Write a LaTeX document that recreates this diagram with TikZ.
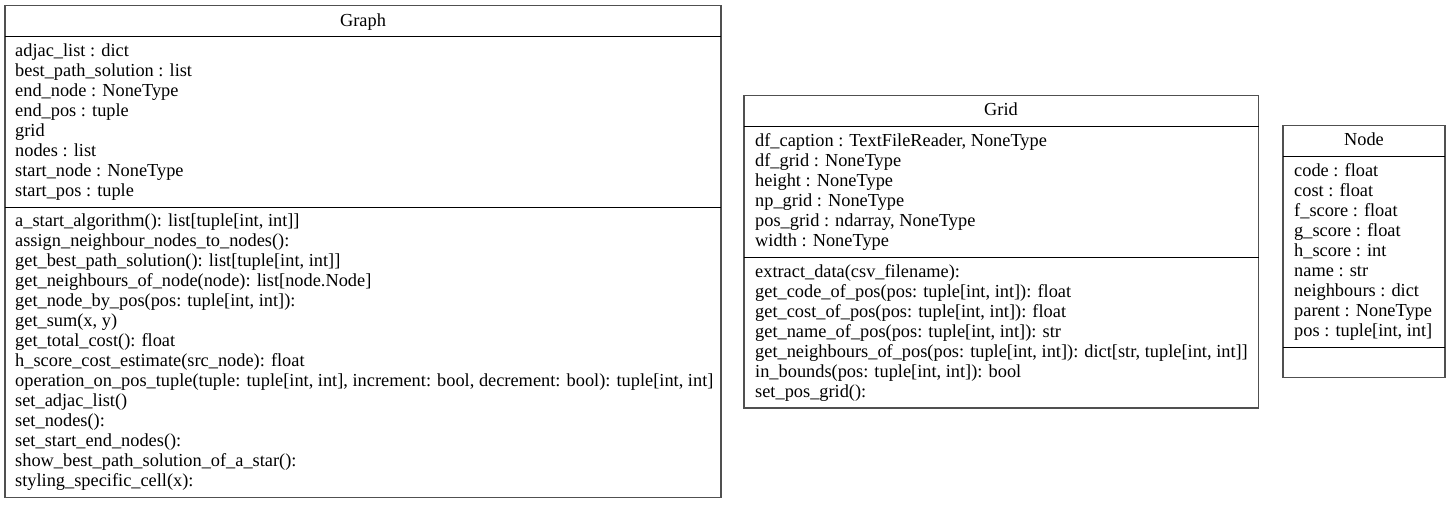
\documentclass[tikz,border=0pt]{standalone}
\usepackage{fontspec}
\setmainfont{Liberation Serif}
\definecolor{boxline}{RGB}{80,80,80}
\begin{document}
\begin{tikzpicture}[x=1pt,y=-1pt,
  outer/.style={draw=boxline,line width=1.3pt},
  divider/.style={draw=black,line width=1pt},
  rows/.style={anchor=base west,align=left,inner sep=0pt,font=\fontsize{18.35}{20}\selectfont},
  title/.style={anchor=base,inner sep=0pt,font=\fontsize{18.35}{20}\selectfont}]
\useasboundingbox (0,0) rectangle (1450,504);
% ---------- Graph ----------
\coordinate (gnw) at (5,5.5);
\coordinate (gse) at (721,497.5);
\draw[outer] (gnw) rectangle (gse);
\draw[divider] (5,36) -- (721,36);
\draw[divider] (5,207) -- (721,207);
\node[title] (gtitle) at (363,26) {Graph};
% anchors are at the baseline of the last line
\node[rows] (gattr) at (15,196) {adjac\_list : dict\\best\_path\_solution : list\\end\_node : NoneType\\end\_pos : tuple\\grid\\nodes : list\\start\_node : NoneType\\start\_pos : tuple};
\node[rows] (gmeth) at (15,486) {a\_start\_algorithm(): list[tuple[int, int]]\\assign\_neighbour\_nodes\_to\_nodes():\\get\_best\_path\_solution(): list[tuple[int, int]]\\get\_neighbours\_of\_node(node): list[node.Node]\\get\_node\_by\_pos(pos: tuple[int, int]):\\get\_sum(x, y)\\get\_total\_cost(): float\\h\_score\_cost\_estimate(src\_node): float\\operation\_on\_pos\_tuple(tuple: tuple[int, int], increment: bool, decrement: bool): tuple[int, int]\\set\_adjac\_list()\\set\_nodes():\\set\_start\_end\_nodes():\\show\_best\_path\_solution\_of\_a\_star():\\styling\_specific\_cell(x):};
% ---------- Grid ----------
\coordinate (rnw) at (744,95.7);
\coordinate (rse) at (1258.5,408);
\draw[outer] (rnw) rectangle (rse);
\draw[divider] (744,126) -- (1258.5,126);
\draw[divider] (744,257) -- (1258.5,257);
\node[title] (rtitle) at (1001,115.7) {Grid};
\node[rows] (rattr) at (755,246) {df\_caption : TextFileReader, NoneType\\df\_grid : NoneType\\height : NoneType\\np\_grid : NoneType\\pos\_grid : ndarray, NoneType\\width : NoneType};
\node[rows] (rmeth) at (755,397) {extract\_data(csv\_filename):\\get\_code\_of\_pos(pos: tuple[int, int]): float\\get\_cost\_of\_pos(pos: tuple[int, int]): float\\get\_name\_of\_pos(pos: tuple[int, int]): str\\get\_neighbours\_of\_pos(pos: tuple[int, int]): dict[str, tuple[int, int]]\\in\_bounds(pos: tuple[int, int]): bool\\set\_pos\_grid():};
% ---------- Node ----------
\coordinate (nnw) at (1283,125.7);
\coordinate (nse) at (1445,377.7);
\draw[outer] (nnw) rectangle (nse);
\draw[divider] (1283,156) -- (1445,156);
\draw[divider] (1283,347) -- (1445,347);
\node[title] (ntitle) at (1364,145.7) {Node};
\node[rows] (nattr) at (1294,336) {code : float\\cost : float\\f\_score : float\\g\_score : float\\h\_score : int\\name : str\\neighbours : dict\\parent : NoneType\\pos : tuple[int, int]};
\end{tikzpicture}
\end{document}
